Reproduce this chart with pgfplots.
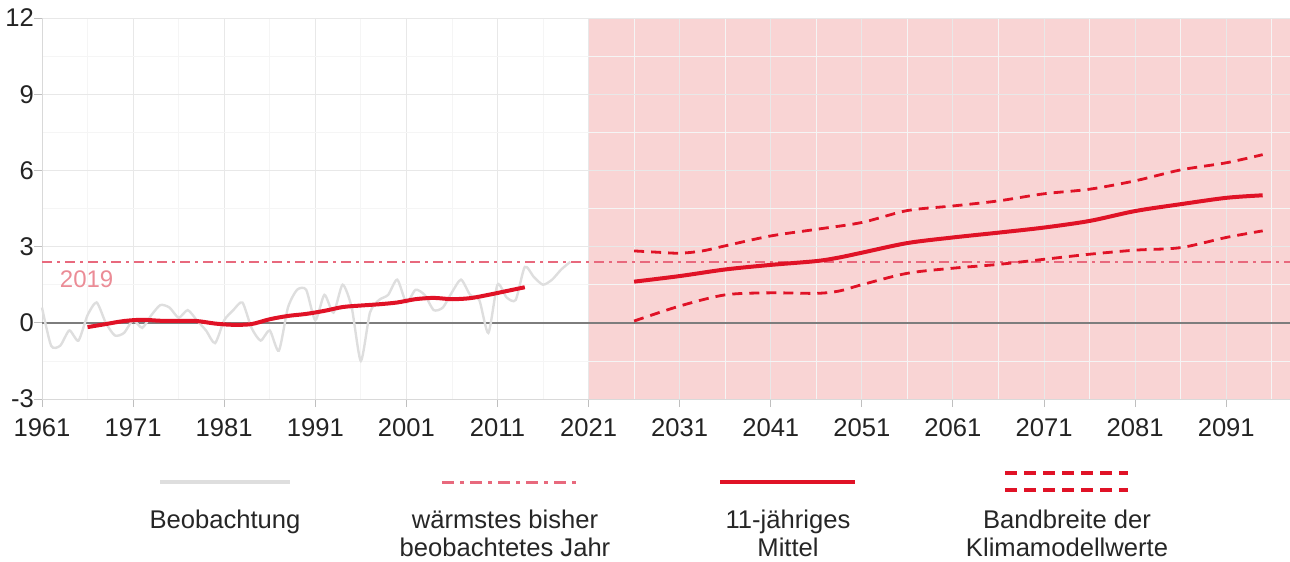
\documentclass[border=0pt]{standalone}
\usepackage{pgfplots}
\pgfplotsset{compat=1.18}
\usepackage{fontspec}
\setmainfont{Liberation Sans}
\definecolor{bgpink}{RGB}{249,212,212}
\definecolor{cred}{RGB}{224,18,38}
\definecolor{dashpink}{RGB}{232,105,125}
\definecolor{lblpink}{RGB}{235,140,150}
\definecolor{obsgrey}{RGB}{222,222,222}
\definecolor{zerogrey}{RGB}{125,125,125}
\definecolor{ticktext}{RGB}{35,35,35}
\begin{document}
\begin{tikzpicture}
\begin{axis}[
  set layers,
  at={(21pt,-199.5pt)}, anchor=south west,
  scale only axis, width=624pt, height=190.5pt,
  xmin=1961, xmax=2098, ymin=-3, ymax=12,
  xtick={1961,1971,1981,1991,2001,2011,2021,2031,2041,2051,2061,2071,2081,2091},
  xticklabels={1961,1971,1981,1991,2001,2011,2021,2031,2041,2051,2061,2071,2081,2091},
  ytick={-3,0,3,6,9,12},
  yticklabels={-3,0,3,6,9,12},
  minor xtick={1966,1976,1986,1996,2006,2016,2026,2036,2046,2056,2066,2076,2086,2096},
  minor ytick={-1.5,1.5,4.5,7.5,10.5},
  grid=both,
  major grid style={draw=black!9, line width=0.5pt},
  minor grid style={draw=black!4, line width=0.4pt},
  axis lines*=left,
  axis line style={draw=black!15, -},
  tick style={draw=black!25, line width=0.5pt},
  major tick length=4pt, minor tick length=0pt,
  tick align=outside,
  ticklabel style={font=\fontsize{12.8}{14}\selectfont, text=ticktext},
  xticklabel style={yshift=-2.5pt},
  yticklabel style={xshift=3.5pt},
  clip=false,
]
% projection background
\addplot[on layer=axis background, fill=bgpink, draw=none] coordinates {(2021,-3) (2021,12) (2098,12) (2098,-3)} -- cycle;
% zero line
\addplot[zerogrey, line width=0.8pt] coordinates {(1961,0) (2098,0)};
% observations
\addplot[obsgrey, line width=1.2pt, smooth, tension=0.4] coordinates {
(1961,0.6) (1962,-0.9) (1963,-0.9) (1964,-0.3) (1965,-0.7) (1966,0.3) (1967,0.8) (1968,0.0)
(1969,-0.5) (1970,-0.4) (1971,0.1) (1972,-0.2) (1973,0.3) (1974,0.7) (1975,0.6) (1976,0.2)
(1977,0.5) (1978,0.1) (1979,-0.3) (1980,-0.8) (1981,0.1) (1982,0.5) (1983,0.8) (1984,-0.2)
(1985,-0.7) (1986,-0.3) (1987,-1.1) (1988,0.6) (1989,1.3) (1990,1.3) (1991,0.1) (1992,1.1)
(1993,0.4) (1994,1.5) (1995,0.6) (1996,-1.5) (1997,0.4) (1998,0.9) (1999,1.1) (2000,1.7)
(2001,0.8) (2002,1.3) (2003,1.1) (2004,0.5) (2005,0.6) (2006,1.2) (2007,1.7) (2008,1.1)
(2009,0.9) (2010,-0.4) (2011,1.5) (2012,1.0) (2013,0.9) (2014,2.2) (2015,1.8) (2016,1.5)
(2017,1.7) (2018,2.1) (2019,2.4)};
% warmest year
\addplot[dashpink, line width=0.7pt, dash pattern=on 5pt off 2.5pt on 1.5pt off 2.5pt] coordinates {(1961,2.4) (2098,2.4)};
\node[text=lblpink, font=\fontsize{12}{14}\selectfont] at (axis cs:1965.9,1.7) {2019};
% observed 11-year mean
\addplot[cred, line width=2pt, smooth, tension=0.5] coordinates {
(1966,-0.17) (1968,-0.05) (1970,0.07) (1972,0.12) (1974,0.08) (1976,0.08) (1978,0.07)
(1980,-0.03) (1982,-0.08) (1984,-0.05) (1986,0.14) (1988,0.27) (1990,0.35) (1992,0.47)
(1994,0.62) (1996,0.68) (1998,0.73) (2000,0.8) (2002,0.93) (2004,0.98) (2006,0.93)
(2008,0.97) (2010,1.1) (2012,1.25) (2014,1.4)};
% projection upper band
\addplot[cred, line width=1.4pt, dash pattern=on 5pt off 3.5pt, smooth, tension=0.5] coordinates {
(2026,2.83) (2028.5,2.78) (2031,2.74) (2033.5,2.83) (2036,3.03) (2041,3.42) (2046,3.68)
(2051,3.95) (2056,4.42) (2061,4.6) (2066,4.8) (2071,5.08) (2076,5.26) (2081,5.59)
(2086,6.02) (2091,6.3) (2095,6.62)};
% projection lower band
\addplot[cred, line width=1.4pt, dash pattern=on 5pt off 3.5pt, smooth, tension=0.5] coordinates {
(2026,0.07) (2031,0.66) (2036,1.1) (2041,1.18) (2046,1.16) (2048.5,1.25) (2051,1.5)
(2056,1.95) (2061,2.15) (2066,2.3) (2071,2.5) (2076,2.7) (2081,2.86) (2086,2.96)
(2091,3.36) (2095,3.62)};
% projection mean
\addplot[cred, line width=2pt, smooth, tension=0.5] coordinates {
(2026,1.62) (2031,1.84) (2036,2.1) (2041,2.28) (2046,2.43) (2048.5,2.57) (2051,2.76)
(2056,3.14) (2061,3.36) (2066,3.55) (2071,3.75) (2076,4.01) (2081,4.4) (2086,4.67)
(2091,4.92) (2095,5.02)};
\end{axis}
% legend
\begin{scope}[every node/.style={font=\fontsize{12.8}{14}\selectfont, text=black!85, align=center, anchor=north}]
\draw[obsgrey, line width=2pt] (80pt,-241pt) -- (145pt,-241pt);
\node at (112.5pt,-251.5pt) {Beobachtung};
\draw[dashpink, line width=1.5pt, dash pattern=on 6pt off 3pt on 2pt off 3pt] (221pt,-241pt) -- (288pt,-241pt);
\node at (252.5pt,-251.5pt) {wärmstes bisher\\beobachtetes Jahr};
\draw[cred, line width=2pt] (360pt,-241pt) -- (427.5pt,-241pt);
\node at (394pt,-251.5pt) {11-jähriges\\Mittel};
\draw[cred, line width=2pt, dash pattern=on 6pt off 3.5pt] (502.5pt,-236.5pt) -- (564pt,-236.5pt);
\draw[cred, line width=2pt, dash pattern=on 6pt off 3.5pt] (502.5pt,-245pt) -- (564pt,-245pt);
\node at (533.5pt,-251.5pt) {Bandbreite der\\Klimamodellwerte};
\end{scope}
\pgfresetboundingbox
\useasboundingbox (0pt,0pt) rectangle (645pt,-281pt);
\end{tikzpicture}
\end{document}
